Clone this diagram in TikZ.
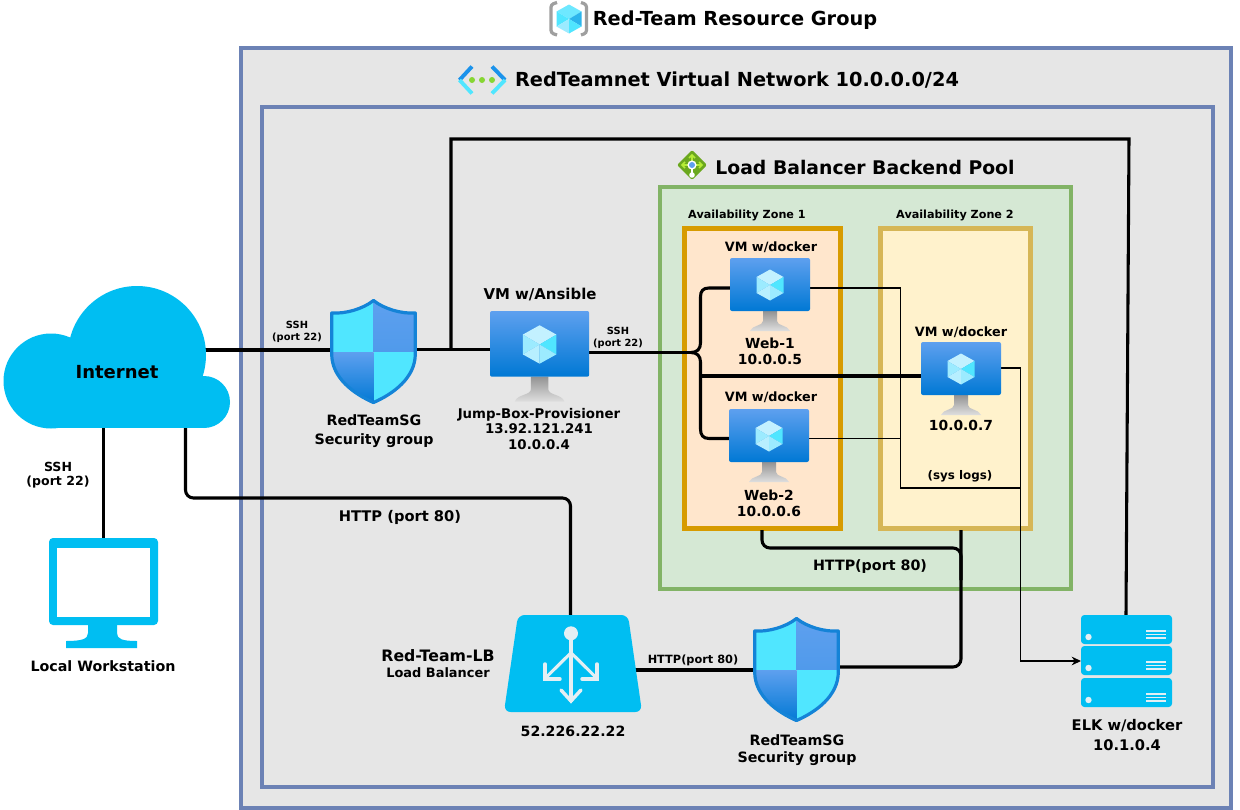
\documentclass[tikz,border=0pt]{standalone}
\usepackage{fontspec}
\setmainfont{DejaVu Sans}
\usetikzlibrary{arrows.meta,calc}
\definecolor{frameblue}{HTML}{6C82B5}
\definecolor{panel}{HTML}{E6E6E6}
\definecolor{greenline}{HTML}{82B366}
\definecolor{greenfill}{HTML}{D5E8D4}
\definecolor{orangeline}{HTML}{D79B00}
\definecolor{orangefill}{HTML}{FFE6CC}
\definecolor{yellowline}{HTML}{D6B656}
\definecolor{yellowfill}{HTML}{FFF2CC}
\definecolor{skyblue}{HTML}{00BEF2}
\definecolor{azlight}{HTML}{5EA0EF}
\definecolor{azdark}{HTML}{0078D4}
\definecolor{cyanA}{HTML}{50E6FF}
\definecolor{cyanB}{HTML}{9CEBFF}
\definecolor{cyanC}{HTML}{C3F1FF}
\definecolor{iconline}{HTML}{E4EFF4}
\definecolor{poolgreen}{HTML}{6BA81E}
\definecolor{poollight}{HTML}{B4EC36}
\definecolor{dotgreen}{HTML}{86D633}
\definecolor{chevblue}{HTML}{1B93EB}
\tikzset{
  x=0.75pt,y=-0.75pt,
  frame/.style={draw=frameblue,line width=3pt,fill=panel},
  wire/.style={draw=black,line width=2.3pt,rounded corners=6pt},
  sharpwire/.style={draw=black,line width=2.3pt,sharp corners},
  thinwire/.style={draw=black,line width=0.8pt},
  txt/.style={font=\bfseries\fontsize{#1}{\fpeval{#1*1.2}}\selectfont,align=center,inner sep=0pt,text=black,yshift=-0.75pt},
  box/.style={inner sep=0pt,outer sep=0pt,draw=none},
}
% azure VM icon: x,y of screen's top-left, scale (1 = 80 px wide)
\newcommand{\vmicon}[3]{%
\begin{scope}[shift={(#1,#2)},scale=#3]
  \shade[top color=gray!85,bottom color=gray!25] (33,53) -- (47,53) -- (47,63) .. controls (47,68) and (58,67) .. (60,73) -- (20,73) .. controls (22,67) and (33,68) .. (33,63) -- cycle;
  \shade[top color=azlight,bottom color=azdark,rounded corners=1.5pt] (0,0) rectangle (80,53);
  \coordinate (C) at (40,27);
  \coordinate (T) at (40,11.5);
  \coordinate (B) at (40,42.5);
  \coordinate (UL) at (26.5,19);
  \coordinate (UR) at (53.5,19);
  \coordinate (LL) at (26.5,35);
  \coordinate (LR) at (53.5,35);
  \fill[cyanC] (T) -- (UR) -- (C) -- (UL) -- cycle;
  \fill[cyanB] (UL) -- (C) -- (LL) -- cycle;
  \fill[cyanA] (UR) -- (C) -- (LR) -- cycle;
  \fill[cyanC!70!cyanB] (LL) -- (C) -- (B) -- cycle;
  \fill[cyanB] (LR) -- (C) -- (B) -- cycle;
\end{scope}}
% shield icon: x,y of top-left
\newcommand{\shieldicon}[2]{%
\begin{scope}[shift={(#1,#2)}]
  \begin{scope}
    \clip (43.5,0) .. controls (33,9) and (15,14) .. (1,14) -- (1,55) .. controls (1,80) and (24,96) .. (43.5,105) .. controls (63,96) and (86,80) .. (86,55) -- (86,14) .. controls (72,14) and (54,9) .. (43.5,0) -- cycle;
    \fill[cyanA] (0,0) rectangle (43.5,53);
    \shade[top color=azlight,bottom color=azlight!85!azdark] (43.5,0) rectangle (87,53);
    \shade[top color=azlight,bottom color=azdark] (0,53) rectangle (43.5,105);
    \fill[cyanA] (43.5,53) rectangle (87,105);
  \end{scope}
  \draw[azdark!92!white,line width=2.4pt,line join=round] (43.5,1.5) .. controls (33,10) and (15,15) .. (1.7,14) -- (1.7,55) .. controls (1.7,79) and (24,95) .. (43.5,103.5) .. controls (63,95) and (85.3,79) .. (85.3,55) -- (85.3,14) .. controls (72,15) and (54,10) .. (43.5,1.5) -- cycle;
\end{scope}}
% server unit
\newcommand{\serverunit}[1]{%
\begin{scope}[shift={(1081,#1)}]
  \fill[skyblue,rounded corners=2.5pt] (0,0) rectangle (91,29);
  \fill[iconline] (7.5,22) circle (3.2);
  \foreach \yy in {16,19.5,23}{\draw[iconline,line width=1.05pt] (65,\yy) -- (85,\yy);}
\end{scope}}
\begin{document}
\begin{tikzpicture}
\useasboundingbox (0,0) rectangle (1240,810);
\fill[white] (0,0) rectangle (1240,810);
% containers
\draw[frame] (241,48) rectangle (1231,808);
\draw[frame] (262,107) rectangle (1213,787);
\draw[draw=greenline,line width=3pt,fill=greenfill] (660,187) rectangle (1071,589);
\draw[draw=orangeline,line width=3.4pt,fill=orangefill] (684.5,228.5) rectangle (840.5,528.5);
\draw[draw=yellowline,line width=3.4pt,fill=yellowfill] (880.5,228.5) rectangle (1030.5,528.5);
% icon anchors
\node[box,minimum width=169.5pt,minimum height=106.5pt] (internet) at (117,357) {};
\node[box,minimum width=81.75pt,minimum height=82.5pt] (workstation) at (103.5,593) {};
\node[box,minimum width=65.25pt,minimum height=78.75pt] (sgone) at (373.5,351.5) {};
\node[box,minimum width=65.25pt,minimum height=78.75pt] (sgtwo) at (796.5,670) {};
\node[box,minimum width=74.25pt,minimum height=49.5pt] (jump) at (539.5,344) {};
\node[box,minimum width=60pt,minimum height=39.75pt] (webone) at (770,284.5) {};
\node[box,minimum width=60pt,minimum height=39.75pt] (webtwo) at (769,435.5) {};
\node[box,minimum width=60pt,minimum height=39.75pt] (webthree) at (961,368.5) {};
\node[box,minimum width=103.5pt,minimum height=72.75pt] (lb) at (573,663.5) {};
\node[box,minimum width=68.25pt,minimum height=69pt] (elk) at (1126.5,661) {};
\coordinate (netport) at (200,350);
\coordinate (lbport) at (630,670);
\coordinate (logbus) at (900.5,488);
\coordinate (logdrop) at (1020.5,488);
% thick connectors
\draw[sharpwire] (netport) -- (sgone.west |- netport);
\draw[sharpwire] (sgone.east |- 0,349.5) -- (jump.west |- 0,349.5);
\draw[sharpwire] (451,349.5) -- (451,139) -- (1129,139) -- (elk.north -| 1126,0);
\draw[sharpwire] (103.5,428) -- (workstation.north);
\draw[wire] (185.5,428) -- (185.5,498) -- (570.5,498) -- (lb.north -| 570.5,0);
\draw[sharpwire] (lbport) -- (sgtwo.west |- lbport);
\draw[wire] (sgtwo.east |- 0,667) -- (961,667) -- (961,530);
\draw[wire] (762,530) -- (762,548) -- (961,548) -- (961,580);
\draw[sharpwire] (jump.east |- 0,352.5) -- (692,352.5);
\draw[sharpwire] (691,352.5) .. controls (697,352.5) and (700.5,349) .. (700.5,343) -- (700.5,297) .. controls (700.5,291) and (703,288) .. (709,288) -- (webone.west |- 0,288);
\draw[sharpwire] (691,352.5) .. controls (697,352.5) and (700.5,356) .. (700.5,362) -- (700.5,429) .. controls (700.5,435) and (703,438.5) .. (709,438.5) -- (webtwo.west |- 0,438.5);
\draw[sharpwire] (700.5,376) -- (webthree.west |- 0,376);
% thin log connectors
\draw[thinwire] (webone.east |- 0,288) -- (900.5,288) -- (logbus) -- (logdrop);
\draw[thinwire] (webtwo.east |- 0,438.5) -- (900.5,438.5);
\draw[thinwire,-{Stealth[length=7pt,width=6.5pt]}] (webthree.east |- 0,368) -- (1020.5,368) -- (1020.5,661) -- (elk.west);
% cloud
\fill[skyblue] (51,381) circle (47.5) (137,355) circle (69) (204,402) circle (26);
\fill[skyblue] (51,380) rectangle (204,428.4);
\fill[skyblue] (80,345) rectangle (190,385);
% workstation
\fill[skyblue,rounded corners=3pt] (49,538) rectangle (158,625);
\fill[white] (57,548) rectangle (150,617);
\fill[skyblue] (88,624) -- (117,624) -- (117,633) .. controls (117,639) and (122,641) .. (137,641) -- (137,648) -- (66,648) -- (66,641) .. controls (82,641) and (88,639) .. (88,633) -- cycle;
% shields
\shieldicon{330}{299}
\shieldicon{753}{617}
% VMs
\vmicon{490}{311}{1.24}
\vmicon{730}{258}{1}
\vmicon{729}{409}{1}
\vmicon{921}{342}{1}
% load balancer
\fill[skyblue,rounded corners=5pt] (518,615) -- (628,615) -- (642,712) -- (504,712) -- cycle;
\fill[iconline] (571,633.3) circle (7);
\draw[iconline,line width=2.3pt] (571,633) -- (571,702);
\draw[iconline,line width=2.3pt,line cap=round,line join=miter] (571,652.7) -- (545.5,678);
\draw[iconline,line width=2.3pt,line cap=round,line join=miter] (571,652.7) -- (596.5,678);
\draw[iconline,line width=2.6pt,line cap=round,line join=miter] (545,664) -- (545,679) -- (560,679);
\draw[iconline,line width=2.6pt,line cap=round,line join=miter] (597,664) -- (597,679) -- (582,679);
\draw[iconline,line width=2.6pt,line cap=round,line join=miter] (561,690) -- (571,701) -- (581,690);
% servers
\serverunit{615}
\serverunit{646}
\serverunit{678}
% resource group icon
\draw[gray!75,line width=2.4pt,rounded corners=2pt] (557,2.5) -- (551,4.5) -- (551,33) -- (557,35);
\draw[gray!75,line width=2.4pt,rounded corners=2pt] (581,2.5) -- (586.5,4.5) -- (586.5,33) -- (581,35);
\coordinate (rC) at (569,19);
\coordinate (rT) at (569,4.5);
\coordinate (rB) at (569,33.5);
\coordinate (rUL) at (556.5,11.5);
\coordinate (rUR) at (581.5,11.5);
\coordinate (rLL) at (556.5,26.5);
\coordinate (rLR) at (581.5,26.5);
\fill[cyanA!60!cyanB] (rT) -- (rUR) -- (rC) -- (rUL) -- cycle;
\fill[cyanA] (rUL) -- (rC) -- (rLL) -- cycle;
\fill[cyanA!55!azdark] (rUR) -- (rC) -- (rLR) -- cycle;
\fill[cyanB] (rLL) -- (rC) -- (rB) -- cycle;
\fill[cyanA] (rLR) -- (rC) -- (rB) -- cycle;
% virtual network icon
\draw[chevblue,line width=2.9pt] (459.5,80) -- (472,66.5);
\draw[cyanA,line width=2.9pt] (459.5,80) -- (472,93.5);
\draw[chevblue,line width=2.9pt] (505,80) -- (492,66.5);
\draw[cyanA,line width=2.9pt] (505,80) -- (492,93.5);
\fill[dotgreen] (472,80) circle (3) (482,80) circle (3) (492,80) circle (3);
% backend pool icon
\fill[poolgreen,rounded corners=1.5pt] (692,150) -- (707,165) -- (692,180) -- (677,165) -- cycle;
\draw[poollight,line width=1.3pt] (682,165) -- (702,165) (692,155) -- (692,165);
\draw[poollight,line width=1.2pt] (685,162) -- (682,165) -- (685,168) (699,162) -- (702,165) -- (699,168) (689,158) -- (692,155) -- (695,158);
\fill[white] (692,175) circle (2.8);
\draw[white,line width=1.3pt] (692,165) -- (692,175);
\fill[white] (692,165) circle (4.6);
\fill[azlight] (692,165) circle (3);
% texts
\node[txt=14.5] (ttitle) at (735,19.5) {Red-Team Resource Group};
\node[txt=14.5] (tvnet) at (737,79) {RedTeamnet Virtual Network 10.0.0.0/24};
\node[txt=14.1] (tpool) at (865,166) {Load Balancer Backend Pool};
\node[txt=8.4] (tazone) at (747,214.5) {Availability Zone 1};
\node[txt=8.4] (taztwo) at (955,214.5) {Availability Zone 2};
\node[txt=9.6] (tdockone) at (771,246) {VM w/docker};
\node[txt=9.6] (tdocktwo) at (771,396) {VM w/docker};
\node[txt=9.6] (tdockthree) at (961,331) {VM w/docker};
\node[txt=10.4] (twebone) at (770,350) {Web-1\\[-0.4pt]10.0.0.5};
\node[txt=10.4] (twebtwo) at (769,502) {Web-2\\[-0.4pt]10.0.0.6};
\node[txt=10.4] (twebthree) at (961,424) {10.0.0.7};
\node[txt=8.9] (tsys) at (960,475) {(sys logs)};
\node[txt=11.2] (tansible) at (540,294) {VM w/Ansible};
\node[txt=7.4] (tsshb) at (618,336.5) {SSH\\(port 22)};
\node[txt=7.4] (tssha) at (297,331) {SSH\\(port 22)};
\node[txt=10] (tjump) at (539,428) {Jump-Box-Provisioner\\[-0.6pt]13.92.121.241\\[-0.6pt]10.0.0.4};
\node[txt=10.7] (tsgone) at (374,430.5) {RedTeamSG\\[1.4pt]Security group};
\node[txt=9.4] (tsshc) at (58,474.5) {SSH\\[-0.8pt](port 22)};
\node[txt=13.5] (tinternet) at (117,371) {Internet};
\node[txt=10.7] (tlocal) at (103,665) {Local Workstation};
\node[txt=11] (thttpa) at (400,516.5) {HTTP (port 80)};
\node[txt=10.7] (thttpb) at (870,566) {HTTP(port 80)};
\node[txt=8.5] (thttpc) at (693,659) {HTTP(port 80)};
\node[txt=11.8] (tlb) at (438,655) {Red-Team-LB};
\node[txt=9.7] (tlbb) at (438,672) {Load Balancer};
\node[txt=10.6] (tip) at (573,730) {52.226.22.22};
\node[txt=10.7] (tsgtwo) at (797,749) {RedTeamSG\\[0.4pt]Security group};
\node[txt=11] (telk) at (1127,734) {ELK w/docker\\[1.2pt]10.1.0.4};
\end{tikzpicture}
\end{document}
